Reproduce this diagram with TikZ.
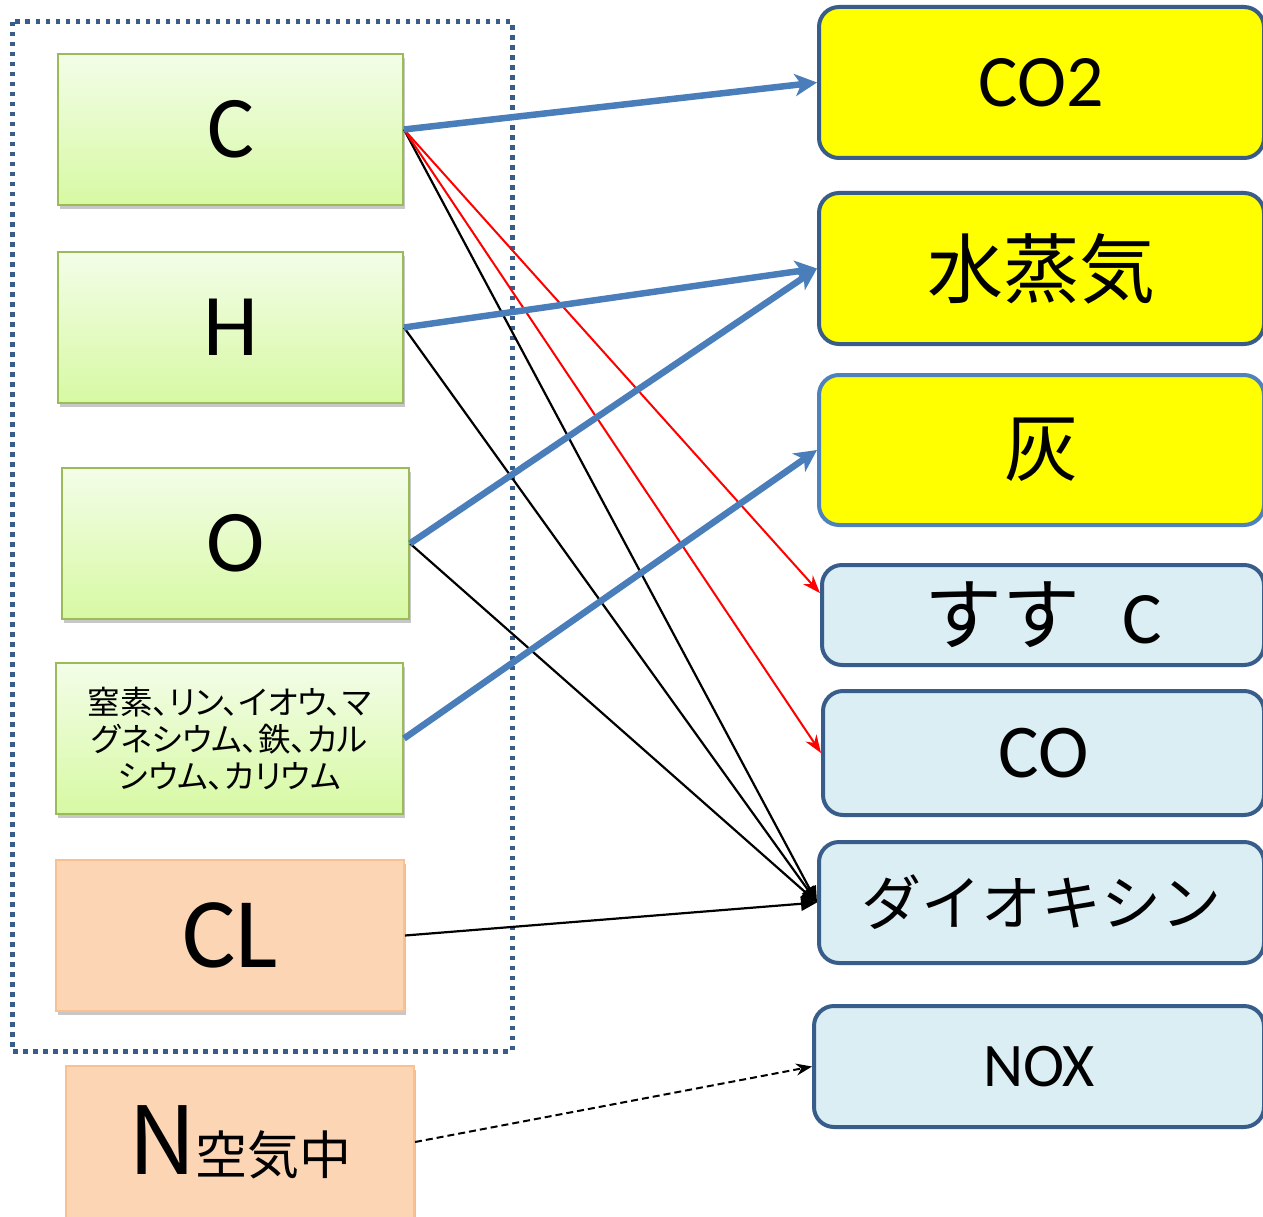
\documentclass[tikz,border=0pt]{standalone}
\usepackage{fontspec}
\setmainfont{Carlito}
\newfontfamily\jp{Noto Sans CJK JP}
\newfontfamily\jpp[RawFeature=+palt]{Noto Sans CJK JP}
\usetikzlibrary{arrows.meta,shadows,calc}
\definecolor{frameblue}{HTML}{385D8A}
\definecolor{arrowblue}{HTML}{4A7EBB}
\definecolor{ashblue}{HTML}{4F81BD}
\definecolor{greentop}{HTML}{F3FDE8}
\definecolor{greenbot}{HTML}{D7F9A3}
\definecolor{greenline}{HTML}{9BBB59}
\definecolor{orangefill}{HTML}{FCD5B5}
\definecolor{orangeline}{HTML}{FAC090}
\definecolor{lightblue}{HTML}{DBEEF4}
\definecolor{pureyellow}{HTML}{FFFF00}
\begin{document}
\begin{tikzpicture}[x=1pt,y=-1pt,
  shd/.style={drop shadow={shadow xshift=2pt,shadow yshift=-4pt,opacity=0.22,fill=black}},
  greenbox/.style={shd,draw=greenline,line width=2pt,top color=greentop,bottom color=greenbot,
    minimum width=345pt,minimum height=151pt,anchor=north west,inner sep=0pt},
  orangebox/.style={shd,draw=orangeline,line width=2pt,fill=orangefill,
    minimum width=348pt,minimum height=151pt,anchor=north west,inner sep=0pt},
  yellowbox/.style={draw=frameblue,line width=4pt,fill=pureyellow,rounded corners=20pt,
    minimum width=445pt,anchor=north west,inner sep=0pt},
  bluebox/.style={draw=frameblue,line width=4pt,fill=lightblue,rounded corners=20pt,
    anchor=north west,inner sep=0pt},
  thick blue/.style={draw=arrowblue,line width=6.5pt,-{Stealth[length=22pt,width=22pt,inset=6pt]}},
  thin black/.style={draw=black,line width=2.2pt,-{Triangle[length=16pt,width=14pt]}},
  thin red/.style={draw=red,line width=2pt,-{Stealth[length=18pt,width=13pt]}},
]
\useasboundingbox (0,0) rectangle (1263,1217);
\fill[white] (0,0) rectangle (1263,1217);

% dotted frame
\draw[frameblue,line width=5pt,dash pattern=on 4.5pt off 5.5pt] (12,22) rectangle (512,1051);

% left boxes
\node[greenbox,font=\fontsize{88}{90}\selectfont] (C) at (57,53) {C};
\node[greenbox,font=\fontsize{88}{90}\selectfont] (H) at (57,251) {H};
\node[greenbox,minimum width=347pt,font=\fontsize{88}{90}\selectfont] (O) at (61,467) {O};
\node[greenbox,minimum width=347pt,align=center,font=\jpp\fontsize{32.5}{37}\selectfont] (M) at (55,662)
  {窒素、リン、イオウ、マ\\グネシウム、鉄、カル\\シウム、カリウム};
\node[orangebox,font=\fontsize{100}{100}\selectfont] (CL) at (55,859) {CL};
\node[orangebox,minimum height=152pt,font=\jp] (N) at (65,1065)
  {\fontsize{94}{94}\selectfont N\fontsize{52}{52}\selectfont 空気中};

% right boxes
\node[yellowbox,minimum height=151pt,font=\fontsize{74}{74}\selectfont] (CO2) at (817,5) {CO2};
\node[yellowbox,minimum height=151pt,font=\jp\fontsize{76}{76}\selectfont] (W) at (817,191) {水蒸気};
\node[yellowbox,draw=ashblue,minimum height=150pt,font=\jp\fontsize{74}{74}\selectfont] (A) at (817,373) {灰};
\node[bluebox,minimum width=442pt,minimum height=100pt] (S) at (820,563)
  {{\jp\fontsize{78}{78}\selectfont すす}\hspace{42pt}{\fontsize{74}{74}\selectfont C}};
\node[bluebox,minimum width=441pt,minimum height=124pt,font=\fontsize{76}{76}\selectfont] (CO) at (821,689) {CO};
\node[bluebox,minimum width=445pt,minimum height=121pt,font=\jp\fontsize{60}{60}\selectfont] (D) at (817,840) {ダイオキシン};
\node[bluebox,minimum width=450pt,minimum height=121pt,font=\fontsize{62}{62}\selectfont] (NOX) at (812,1004) {NOX};

% connectors
\draw[thin black] (C.east) -- (D.west);
\draw[thin black] (H.east) -- (D.west);
\draw[thin black] (O.east) -- (D.west);
\draw[thin black] (CL.east) -- (D.west);
\draw[thin red] (C.east) -- ($(S.north west)!0.29!(S.south west)$);
\draw[thin red] (C.east) -- (CO.west);
\draw[thick blue] (C.east) -- (CO2.west);
\draw[thick blue] (H.east) -- (W.west);
\draw[thick blue] (O.east) -- (W.west);
\draw[thick blue] (M.east) -- (A.west);
\draw[black,line width=2pt,dash pattern=on 7pt off 4pt,-{Stealth[length=16pt,width=12pt]}] (N.east) -- (NOX.west);
\end{tikzpicture}
\end{document}
